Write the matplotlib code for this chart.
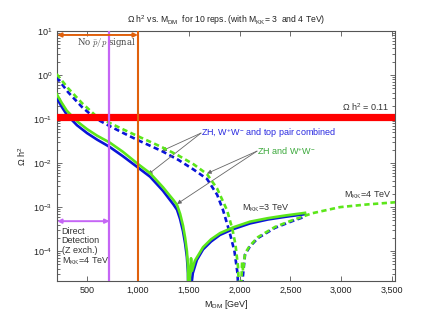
import numpy as np
import matplotlib
matplotlib.use("Agg")
import matplotlib.pyplot as plt
from matplotlib.ticker import FixedLocator, LogLocator, NullFormatter

plt.rcParams['font.family'] = ['Liberation Sans', 'DejaVu Sans']

# ---- data (log10 of Omega h^2 vs M_DM in GeV) ----
# M_KK = 3 TeV, solid curves
x_solid_blue = [200, 250, 300, 400, 500, 600, 720, 850, 1000, 1120, 1247, 1300, 1350, 1385, 1415, 1444, 1465, 1482, 1493, 1500,
                1515, 1540, 1580, 1641, 1720, 1808, 1936, 2103, 2280, 2450, 2644]
logy_solid_blue = [-0.52, -0.72, -0.90, -1.14, -1.32, -1.47, -1.63, -1.84, -2.10, -2.31, -2.63, -2.79, -2.94, -3.06, -3.27, -3.55, -3.83, -4.13, -4.5, -6.0,
                   -5.0, -4.5, -4.2, -3.96, -3.78, -3.63, -3.50, -3.37, -3.28, -3.22, -3.16]
x_solid_green = [200, 250, 300, 400, 500, 600, 720, 850, 1000, 1120, 1247, 1300, 1350, 1385, 1415, 1444, 1465, 1482, 1493, 1500,
                 1512, 1523, 1532, 1560, 1641, 1720, 1808, 1936, 2103, 2280, 2450, 2644]
logy_solid_green = [-0.43, -0.63, -0.81, -1.05, -1.23, -1.38, -1.53, -1.74, -2.02, -2.23, -2.55, -2.70, -2.84, -2.95, -3.15, -3.42, -3.70, -4.0, -4.35, -6.0,
                    -4.6, -4.16, -4.45, -4.22, -3.91, -3.73, -3.59, -3.46, -3.33, -3.25, -3.19, -3.13]
# M_KK = 4 TeV, dashed curves
x_dash_blue = [200, 313, 451, 578, 706, 850, 1000, 1238, 1400, 1550, 1680, 1780, 1838, 1900, 1950, 1980, 1995, 2000,
               2015, 2054, 2100, 2182, 2349, 2516, 2650]
logy_dash_blue = [-0.05, -0.39, -0.73, -0.98, -1.14, -1.31, -1.48, -1.73, -1.93, -2.15, -2.36, -2.72, -3.07, -3.55, -4.0, -4.5, -5.2, -6.0,
                  -5.0, -4.08, -3.90, -3.70, -3.47, -3.32, -3.21]
x_dash_green = [200, 313, 451, 578, 706, 850, 1000, 1238, 1400, 1550, 1680, 1780, 1877, 1930, 1960, 1985, 2000, 2005,
                2015, 2025, 2035, 2054, 2100, 2182, 2349, 2516, 2713, 2988, 3250, 3530]
logy_dash_green = [0.02, -0.30, -0.64, -0.91, -1.07, -1.23, -1.39, -1.64, -1.83, -2.03, -2.25, -2.58, -3.07, -3.5, -3.85, -4.35, -5.2, -6.0,
                   -4.9, -4.25, -4.45, -4.05, -3.88, -3.68, -3.45, -3.30, -3.14, -3.00, -2.94, -2.89]

omega_obs = 0.11
m_direct = 720
m_pbar = 1000
x_ticks = [500, 1000, 1500, 2000, 2500, 3000, 3500]
x_ticklabels = ['500', '1,000', '1,500', '2,000', '2,500', '3,000', '3,500']
y_ticks = [1e-4, 1e-3, 1e-2, 1e-1, 1e0, 1e1]
y_ticklabels = ['$\\mathregular{10^{-4}}$', '$\\mathregular{10^{-3}}$', '$\\mathregular{10^{-2}}$',
                '$\\mathregular{10^{-1}}$', '$\\mathregular{10^{0}}$', '$\\mathregular{10^{1}}$']

BLUE = '#0a14d8'
GREEN = '#5ce61a'
RED = '#ff0000'
MAG = '#c565f5'
ORANGE = '#e0600c'
TXT = '#333333'
FS = 6.5

fig = plt.figure(figsize=(4.36, 3.19), dpi=100)
ax = fig.add_axes([0.131, 0.119, 0.775, 0.784])

lw = 1.9
ax.plot(x_solid_blue, 10 ** np.array(logy_solid_blue), color=BLUE, lw=lw, zorder=3)
ax.plot(x_solid_green, 10 ** np.array(logy_solid_green), color=GREEN, lw=lw, zorder=4)
ax.plot(x_dash_blue, 10 ** np.array(logy_dash_blue), color=BLUE, lw=lw, dashes=(2.0, 1.3), zorder=3)
ax.plot(x_dash_green, 10 ** np.array(logy_dash_green), color=GREEN, lw=lw, dashes=(2.0, 1.3), zorder=4)

ax.axhline(omega_obs, color=RED, lw=5.2, zorder=5)
ax.axvline(m_direct, color=MAG, lw=1.6, zorder=5)
ax.axvline(m_pbar, color=ORANGE, lw=1.5, zorder=5)

ax.set_xlim(205, 3530)
ax.set_ylim(2.1e-5, 10)
ax.set_yscale('log')

ax.xaxis.set_major_locator(FixedLocator(x_ticks))
ax.set_xticklabels(x_ticklabels)
ax.yaxis.set_major_locator(FixedLocator(y_ticks))
ax.set_yticklabels(y_ticklabels)
ax.yaxis.set_minor_locator(LogLocator(base=10, subs=np.arange(2, 10)))
ax.yaxis.set_minor_formatter(NullFormatter())
ax.tick_params(which='both', direction='in', top=True, right=True, colors='#555555',
               labelcolor='#222222', labelsize=FS, width=0.6)
ax.tick_params(which='major', length=3.5)
ax.tick_params(which='minor', length=2)
for s in ax.spines.values():
    s.set_color('#555555')
    s.set_linewidth(0.8)

ax.set_title('\u03a9 h$^\\mathregular{2}$ vs. M$_\\mathregular{DM}$  for 10 reps. (with M$_\\mathregular{KK}$= 3  and 4 TeV)',
             fontsize=6.2, color='#222222', pad=6)
ax.set_xlabel('M$_\\mathregular{DM}$ [GeV]', fontsize=FS, color='#222222', labelpad=2)
ax.set_ylabel('\u03a9 h$^\\mathregular{2}$', fontsize=FS, color='#222222')
ax.yaxis.set_label_coords(-0.085, 0.5)

# annotations
ax.annotate('', xy=(205, 8.1), xytext=(m_pbar, 8.1),
            arrowprops=dict(arrowstyle='<|-|>', color=ORANGE, lw=1.4, mutation_scale=6, shrinkA=0, shrinkB=0), zorder=6)
ax.text(690, 5.4, 'No $\\bar{p}/p$ signal', fontsize=6.2, family='DejaVu Serif', math_fontfamily='cm',
        color='#444444', ha='center', va='center')
ax.annotate('', xy=(205, 4.8e-4), xytext=(m_direct, 4.8e-4),
            arrowprops=dict(arrowstyle='<|-|>', color=MAG, lw=1.4, mutation_scale=6, shrinkA=0, shrinkB=0), zorder=6)
ax.text(250, 3.6e-4, 'Direct\nDetection\n(Z exch.)\nM$_\\mathregular{KK}$=4 TeV', fontsize=FS, color=TXT,
        ha='left', va='top', linespacing=1.1)
ax.text(3480, 0.135, '\u03a9 h$^\\mathregular{2}$ = 0.11', fontsize=FS, color=TXT, ha='right', va='bottom')

arr = dict(arrowstyle='-|>', color='#666666', lw=0.6, mutation_scale=6, shrinkA=0, shrinkB=0)
ax.text(1621, 0.048, 'ZH, W$^\\mathregular{+}$W$^\\mathregular{-}$ and top pair combined', fontsize=FS,
        color='#2828e0', ha='left', va='center')
ax.annotate('', xy=(1238, 0.019), xytext=(1621, 0.048), arrowprops=arr)
ax.annotate('', xy=(1100, 0.0055), xytext=(1621, 0.048), arrowprops=arr)
ax.text(2172, 0.0187, 'ZH and W$^\\mathregular{+}$W$^\\mathregular{-}$', fontsize=FS,
        color='#3aa83a', ha='left', va='center')
ax.annotate('', xy=(1680, 0.0058), xytext=(2172, 0.0187), arrowprops=arr)
ax.annotate('', xy=(1385, 0.00118), xytext=(2172, 0.0187), arrowprops=arr)
ax.text(2025, 9.5e-4, 'M$_\\mathregular{KK}$=3 TeV', fontsize=FS, color=TXT, ha='left', va='center')
ax.text(3028, 1.9e-3, 'M$_\\mathregular{KK}$=4 TeV', fontsize=FS, color=TXT, ha='left', va='center')

fig.savefig('out.png', dpi=100)
